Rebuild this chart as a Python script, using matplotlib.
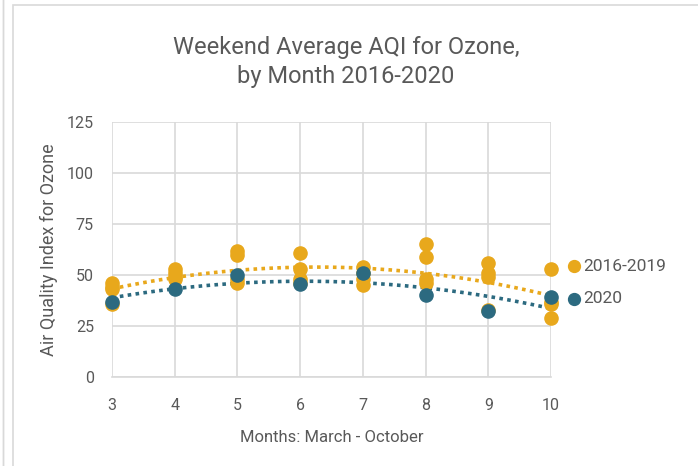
import matplotlib
matplotlib.use("Agg")
import matplotlib.pyplot as plt
from matplotlib.patches import Rectangle
import numpy as np

plt.rcParams['font.family'] = ['Roboto', 'DejaVu Sans']

# Data (4 years per month for 2016-2019)
months = [3, 4, 5, 6, 7, 8, 9, 10]
aqi_2016_2019 = [
    [46, 44, 43, 36],
    [53, 51, 49, 48],
    [62, 60, 48, 46],
    [61, 53, 48, 46],
    [54, 51, 48, 45],
    [65, 59, 48, 46],
    [56, 51, 49, 33],
    [53, 37, 36, 29],
]
aqi_2020 = [37, 43, 50, 45.5, 51, 40, 32.5, 39]

orange = '#E8A81C'
blue = '#2C6A80'
text_gray = '#595959'
grid_gray = '#D9D9D9'

fig = plt.figure(figsize=(6.98, 4.66), dpi=100)
fig.patches.append(Rectangle((13 / 698, -0.01), 1.0, 1 - 5 / 466 + 0.01,
                             transform=fig.transFigure, fill=False,
                             edgecolor='#D9D9D9', linewidth=1.2))
fig.patches.append(Rectangle((3 / 698, -0.01), 0.0, 1.02,
                             transform=fig.transFigure, fill=False,
                             edgecolor='#D9D9D9', linewidth=1.0))

ax = fig.add_axes([112 / 698, 1 - 377 / 466, (551 - 112) / 698, (377 - 122) / 466])

# scatter points
ox = [m for m, vals in zip(months, aqi_2016_2019) for _ in vals]
oy = [v for vals in aqi_2016_2019 for v in vals]
ax.scatter(ox, oy, s=90, color=orange, zorder=3, label='2016-2019', clip_on=False)
ax.scatter(months, aqi_2020, s=90, color=blue, zorder=4, label='2020', clip_on=False)

# polynomial (order 2) trendlines
xs = np.linspace(3, 10, 200)
po = np.polyfit(ox, oy, 2)
pb = np.polyfit(months, aqi_2020, 2)
ax.plot(xs, np.polyval(po, xs), color=orange, linestyle=(0, (1, 1.2)), linewidth=2.6, zorder=2)
ax.plot(xs, np.polyval(pb, xs), color=blue, linestyle=(0, (1, 1.2)), linewidth=2.6, zorder=2)

ax.set_xlim(3, 10)
ax.set_ylim(0, 125)
ax.set_xticks(months)
ax.set_yticks([0, 25, 50, 75, 100, 125])
ax.grid(True, color=grid_gray, linewidth=1.2)
ax.set_axisbelow(True)
for s in ['top', 'right', 'left']:
    ax.spines[s].set_visible(False)
ax.spines['bottom'].set_color(grid_gray)
ax.spines['bottom'].set_linewidth(1.2)
ax.tick_params(length=0, colors=text_gray, labelsize=11.5)
ax.tick_params(axis='x', pad=15)
ax.tick_params(axis='y', pad=13)

ax.set_xlabel('Months: March - October', color=text_gray, fontsize=12, labelpad=12)
ax.set_ylabel('Air Quality Index for Ozone', color=text_gray, fontsize=13, labelpad=6)

fig.text(346 / 698, 1 - 62 / 466, 'Weekend Average AQI for Ozone,\nby Month 2016-2020',
         ha='center', va='center', fontsize=17, color=text_gray, linespacing=1.35)

leg = ax.legend(loc='center left', bbox_to_anchor=(1.02, 0.37), frameon=False,
                borderaxespad=0, fontsize=12.5, handlelength=0.8, handletextpad=0.15,
                labelspacing=1.0, markerscale=0.9)
for t in leg.get_texts():
    t.set_color(text_gray)

fig.savefig('out.png', dpi=100)
